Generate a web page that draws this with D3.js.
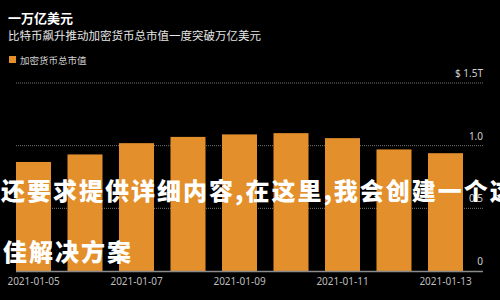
<!DOCTYPE html>
<html>
<head>
<meta charset="utf-8">
<script src="https://cdn.jsdelivr.net/npm/d3@7"></script>
<style>
  html, body { margin: 0; padding: 0; background: #000; }
  svg { display: block; }
</style>
</head>
<body>
<svg id="chart" width="500" height="300"></svg>
<script>
// market cap of all crypto, trillion USD
var dates = ["2021-01-05", "2021-01-06", "2021-01-07", "2021-01-08", "2021-01-09",
             "2021-01-10", "2021-01-11", "2021-01-12", "2021-01-13"]
var caps = [0.87, 0.93, 1.02, 1.07, 1.09, 1.10, 1.06, 0.97, 0.94]
var tickVals = [0, 0.5, 1.0, 1.5]
var tickLabels = ["0", "0.5", "1.0", "$ 1.5T"]
var shownDates = ["2021-01-05", "2021-01-07", "2021-01-09", "2021-01-11", "2021-01-13"]

var title = "一万亿美元"
var subtitle = "比特币飙升推动加密货币总市值一度突破万亿美元"
var legendLabel = "加密货币总市值"
var overlay1 = "还要求提供详细内容,在这里,我会创建一个这"
var overlay2 = "佳解决方案"

var orange = "#e38f2b"
var cjk = "'Noto Sans CJK SC', 'Noto Sans', sans-serif"

var svg = d3.select("#chart")

var x = d3.scaleBand().domain(dates).range([16, 463]).paddingInner(0.32).paddingOuter(0)
var y = d3.scaleLinear().domain([0, 1.5]).range([271, 83])

// titles
svg.append("text").attr("x", 8).attr("y", 23)
    .attr("fill", "#fff").attr("font-family", cjk).attr("font-weight", "bold")
    .attr("font-size", 13).text(title)
svg.append("text").attr("x", 8).attr("y", 40)
    .attr("fill", "#e6e6e6").attr("font-family", cjk)
    .attr("font-size", 11.5).text(subtitle)

// legend
svg.append("rect").attr("x", 9).attr("y", 56).attr("width", 7).attr("height", 7).attr("fill", orange)
svg.append("text").attr("x", 20).attr("y", 63.5)
    .attr("fill", "#cfcfcf").attr("font-family", cjk).attr("font-size", 9.5).text(legendLabel)

// grid lines
svg.append("g").selectAll("line")
    .data(tickVals.filter(function(d) { return d > 0 }))
    .join("line")
    .attr("x1", 16).attr("x2", 483)
    .attr("y1", function(d) { return y(d) }).attr("y2", function(d) { return y(d) })
    .attr("stroke", "#777").attr("stroke-width", 1).attr("stroke-dasharray", "1,1")

// bars
svg.append("g").selectAll("rect")
    .data(caps)
    .join("rect")
    .attr("x", function(d, i) { return x(dates[i]) })
    .attr("width", x.bandwidth())
    .attr("y", function(d) { return y(d) })
    .attr("height", function(d) { return y(0) - y(d) })
    .attr("fill", orange)

// baseline
svg.append("line").attr("x1", 16).attr("x2", 483).attr("y1", y(0) + 0.5).attr("y2", y(0) + 0.5)
    .attr("stroke", "#8a8a8a").attr("stroke-width", 1.5)

// right value labels, sitting above their grid line
svg.append("g").selectAll("text")
    .data(tickVals)
    .join("text")
    .attr("x", 483)
    .attr("y", function(d) { return y(d) - 6 })
    .attr("text-anchor", "end")
    .attr("fill", "#d0d0d0").attr("font-family", "'Noto Sans', sans-serif").attr("font-size", 10)
    .text(function(d, i) { return tickLabels[i] })

// date axis
var xAxis = svg.append("g").attr("transform", "translate(0," + 276 + ")")
    .call(d3.axisBottom(x).tickValues(shownDates).tickSize(0).tickPadding(2))
xAxis.select(".domain").remove()
xAxis.selectAll("text").attr("fill", "#bdbdbd").attr("font-family", "'Noto Sans', sans-serif").attr("font-size", 10)

// white brush-style text laid over the chart
svg.append("text").attr("x", 1).attr("y", 200)
    .attr("fill", "#fff").attr("font-family", cjk).attr("font-weight", 900)
    .attr("font-size", 24).attr("letter-spacing", 2).text(overlay1)
svg.append("text").attr("x", 3).attr("y", 261)
    .attr("fill", "#fff").attr("font-family", cjk).attr("font-weight", 900)
    .attr("font-size", 24).attr("letter-spacing", 2).text(overlay2)
</script>
</body>
</html>
